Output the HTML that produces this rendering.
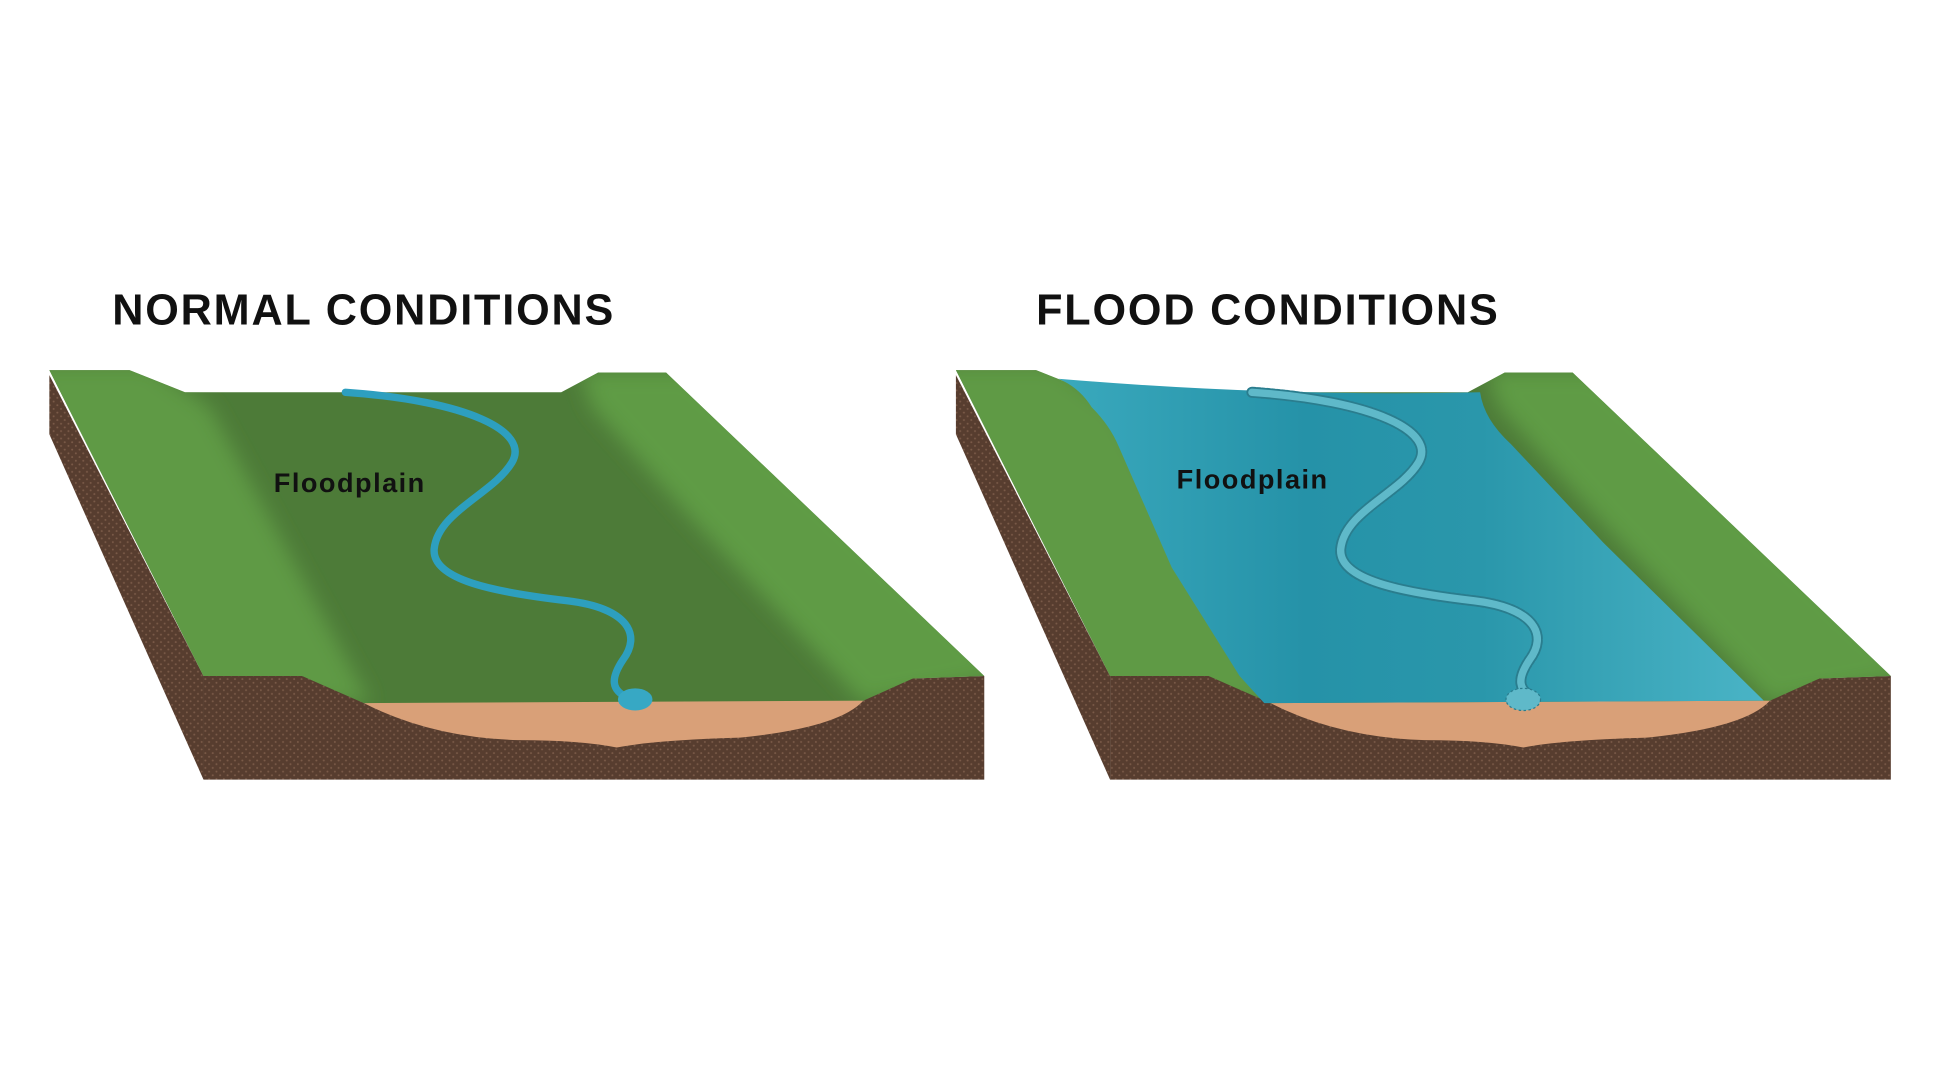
<!DOCTYPE html>
<html><head><meta charset="utf-8"><style>
html,body{margin:0;padding:0;background:#fff;width:1934px;height:1088px;overflow:hidden}
svg{display:block}
</style></head><body>
<svg width="1934" height="1088" viewBox="0 0 1568 882" preserveAspectRatio="none" xmlns="http://www.w3.org/2000/svg">
<defs>
<pattern id="dots" width="6" height="6" patternUnits="userSpaceOnUse">
<rect width="6" height="6" fill="#573d2f"/>
<circle cx="1.5" cy="1.5" r="0.8" fill="#7a5a48"/>
<circle cx="4.5" cy="4.5" r="0.8" fill="#7a5a48"/>
</pattern>
<linearGradient id="wat" x1="0" y1="0" x2="1" y2="0">
<stop offset="0" stop-color="#3aa9bd"/><stop offset="0.35" stop-color="#2592a8"/><stop offset="0.6" stop-color="#2a97ab"/><stop offset="1" stop-color="#4ab4c6"/>
</linearGradient>
<filter id="bl" x="-20%" y="-20%" width="140%" height="140%"><feGaussianBlur stdDeviation="8"/></filter>
<clipPath id="topclip"><path d="M40,300 L105,300 L150,318 L455,318 L485,302 L540,302 L798,548 L740,550 L700,568 L295,570 L245,548 L165,548 Z"/></clipPath>
<g id="panel">
<path d="M40,304 L165,548 L165,632 L40,352 Z" fill="url(#dots)"/>
<path d="M165,548 L245,548 Q270,552 295,570 L700,568 Q725,552 740,550 L798,548 L798,632 L165,632 Z" fill="url(#dots)"/>
<path d="M295,570 Q350,598 420,600 Q470,600 500,606 Q530,600 600,598 Q680,590 700,568 Q500,562 295,570 Z" fill="#d9a078"/>
<path d="M40,300 L105,300 L150,318 L455,318 L485,302 L540,302 L798,548 L740,550 L700,568 L295,570 L245,548 L165,548 Z" fill="#4d7b38"/>
<g clip-path="url(#topclip)">
<path d="M20,295 L120,295 L170,330 L300,570 L150,570 Z" fill="#5e9a45" filter="url(#bl)"/>
<path d="M470,300 L560,300 L820,548 L700,570 L560,420 L480,330 Z" fill="#5f9b45" filter="url(#bl)"/>
</g>
</g>
</defs>

<text x="91" y="263" font-family="Liberation Sans, sans-serif" font-weight="bold" font-size="35" letter-spacing="1.5" fill="#111">NORMAL CONDITIONS</text>
<text x="840" y="263" font-family="Liberation Sans, sans-serif" font-weight="bold" font-size="35" letter-spacing="1.5" fill="#111">FLOOD CONDITIONS</text>

<use href="#panel"/>
<path d="M280,318 C380,325 430,350 415,375 C400,400 355,415 352,445 C350,470 400,480 460,487 C510,493 520,515 505,535 C495,550 495,560 510,566" fill="none" stroke="#2d9fbf" stroke-width="6" stroke-linecap="round"/>
<ellipse cx="515" cy="567" rx="14" ry="9" fill="#37a8c4"/>
<text x="222" y="399" font-family="Liberation Sans, sans-serif" font-weight="bold" font-size="22" letter-spacing="1.2" fill="#111">Floodplain</text>

<g transform="translate(735,0)">
<use href="#panel"/>
<path d="M123,307 Q140,314 150,330 Q165,345 172,362 L215,460 L270,548 L290,570 L695,568 L565,440 L490,360 Q468,340 465,318 Q300,322 123,307 Z" fill="url(#wat)"/>
<path d="M280,318 C380,325 430,350 415,375 C400,400 355,415 352,445 C350,470 400,480 460,487 C510,493 520,515 505,535 C495,550 495,560 510,566" fill="none" stroke="#2a7d8e" stroke-width="9" stroke-dasharray="2,2" stroke-linecap="round"/>
<path d="M280,318 C380,325 430,350 415,375 C400,400 355,415 352,445 C350,470 400,480 460,487 C510,493 520,515 505,535 C495,550 495,560 510,566" fill="none" stroke="#5fb9c9" stroke-width="6" stroke-linecap="round"/>
<ellipse cx="500" cy="567" rx="14" ry="9" fill="#5fb9c9" stroke="#2a7d8e" stroke-width="1" stroke-dasharray="2,2"/>
<text x="219" y="396" font-family="Liberation Sans, sans-serif" font-weight="bold" font-size="22" letter-spacing="1.2" fill="#111">Floodplain</text>
</g>
</svg>
</body></html>
